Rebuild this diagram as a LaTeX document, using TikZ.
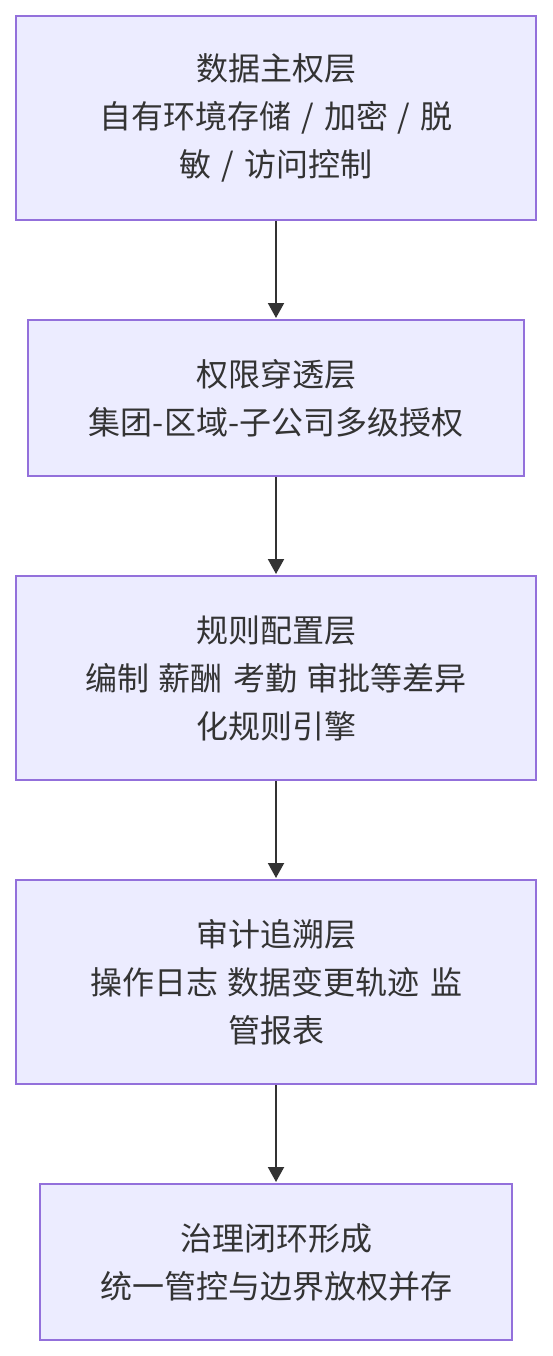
\documentclass[tikz,border=0pt]{standalone}
\usepackage{fontspec}
\setmainfont{Noto Sans CJK SC}
\usetikzlibrary{arrows.meta}
\definecolor{boxfill}{HTML}{ECECFF}
\definecolor{boxline}{HTML}{9370DB}
\definecolor{txt}{HTML}{333333}
\newcommand\layerfont{\fontsize{32}{48}\selectfont\spaceskip=10pt plus 0pt minus 0pt\relax}
\tikzset{
  layer/.style={draw=boxline, fill=boxfill, line width=2pt, rectangle, align=center,
    text=txt, font=\layerfont, inner sep=0pt},
  flow/.style={draw=txt, line width=2pt, -{Triangle[width=16pt,length=15pt]}, shorten >=1pt}
}
\begin{document}
\begin{tikzpicture}[x=1pt,y=-1pt]
\useasboundingbox (0,0) rectangle (552,1356);
\node[layer, minimum width=520pt, minimum height=204pt] (a) at (276,118)
  {数据主权层\\自有环境存储 / 加密 / 脱\\敏 / 访问控制};
\node[layer, minimum width=496pt, minimum height=156pt] (b) at (276,398)
  {权限穿透层\\集团-区域-子公司多级授权};
\node[layer, minimum width=520pt, minimum height=204pt] (c) at (276,678)
  {规则配置层\\编制 薪酬 考勤 审批等差异\\化规则引擎};
\node[layer, minimum width=520pt, minimum height=204pt] (d) at (276,982)
  {审计追溯层\\操作日志 数据变更轨迹 监\\管报表};
\node[layer, minimum width=472pt, minimum height=156pt] (e) at (276,1262)
  {治理闭环形成\\统一管控与边界放权并存};
\draw[flow] (a.south) -- (b.north);
\draw[flow] (b.south) -- (c.north);
\draw[flow] (c.south) -- (d.north);
\draw[flow] (d.south) -- (e.north);
\end{tikzpicture}
\end{document}
